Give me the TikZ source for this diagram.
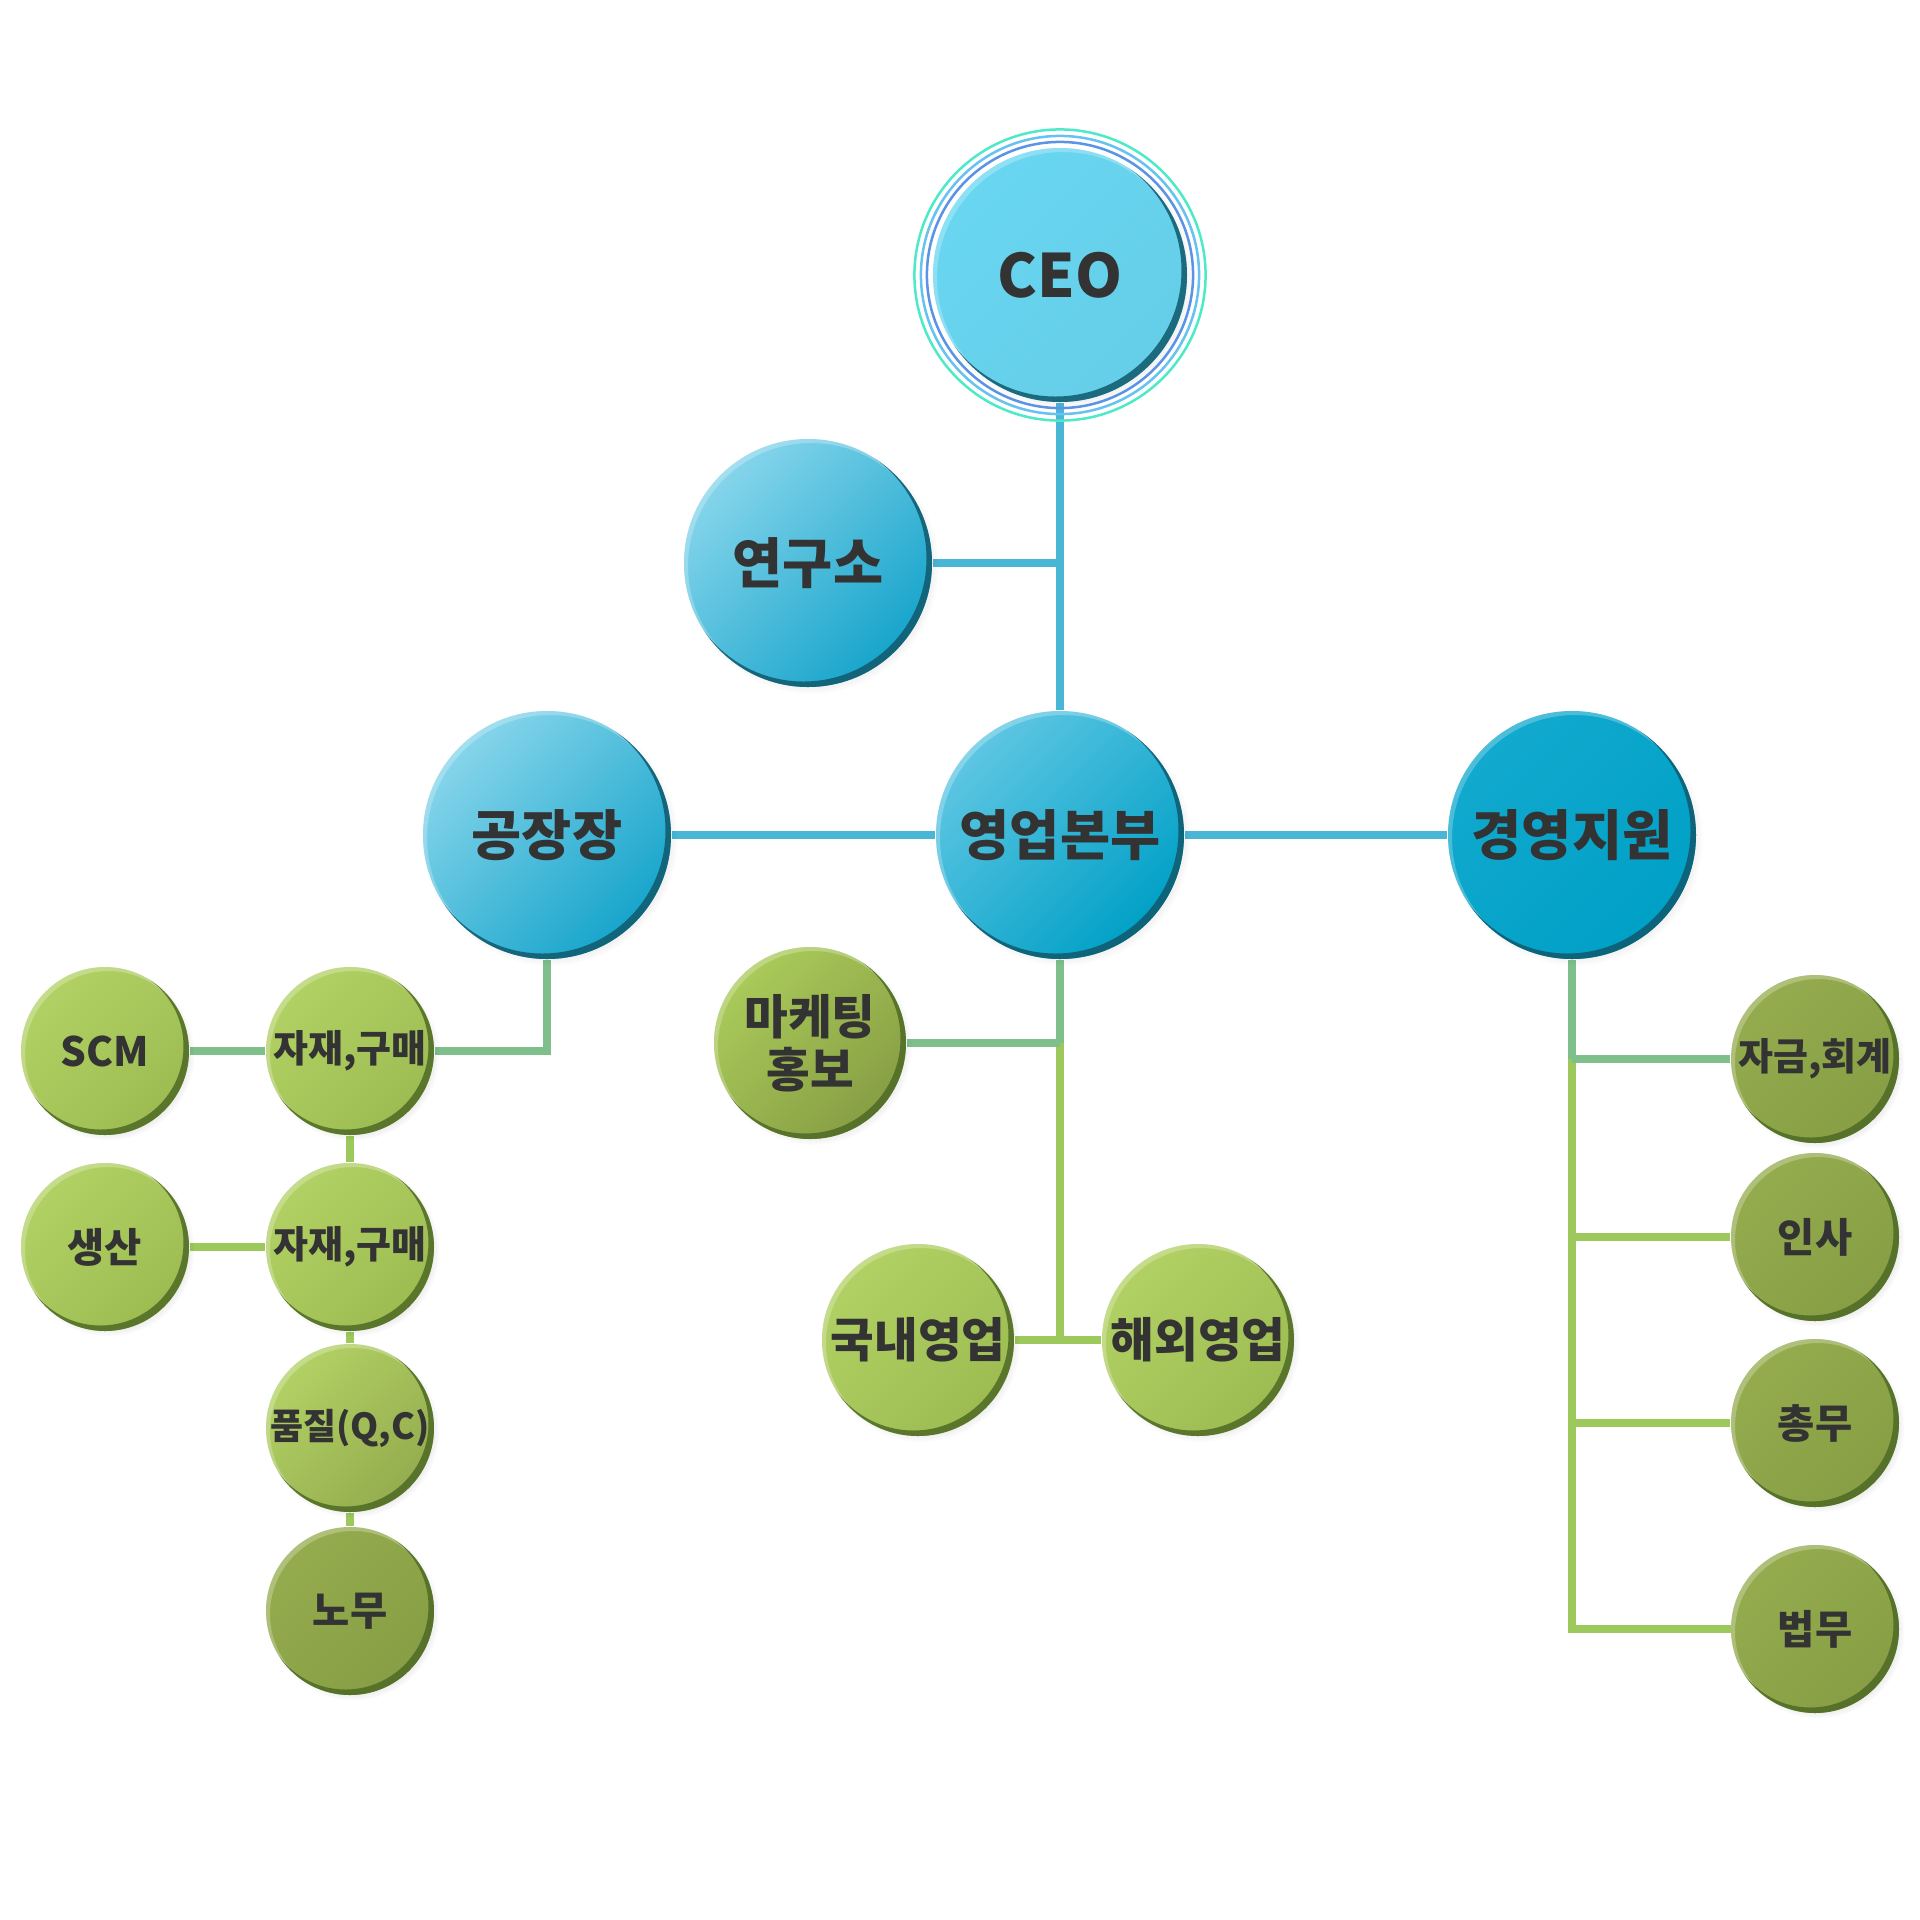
\documentclass[tikz,border=0pt]{standalone}
\usepackage{fontspec}
\setmainfont{Noto Sans CJK KR}
\usetikzlibrary{shadows}
\pgfdeclarelayer{bg}
\pgfdeclarelayer{lines}
\pgfsetlayers{bg,lines,main}
\definecolor{txt}{HTML}{333333}
\definecolor{ceofill}{HTML}{69D6F1}
\definecolor{ringA}{HTML}{5B93E6}
\definecolor{ringB}{HTML}{66C2F0}
\definecolor{ringC}{HTML}{4DEAC8}
\definecolor{bluerim}{HTML}{10596C}
\definecolor{greenrim}{HTML}{4E6A25}
\definecolor{blueline}{HTML}{4AB6D6}
\definecolor{tealline}{HTML}{7EBF8C}
\definecolor{greenline}{HTML}{9CC85C}
\definecolor{bA}{HTML}{86D5EB}
\definecolor{bB}{HTML}{16A4CB}
\definecolor{bC}{HTML}{5EC6E3}
\definecolor{bD}{HTML}{00A0C6}
\definecolor{bE}{HTML}{12A9CE}
\definecolor{gA}{HTML}{B2D164}
\definecolor{gB}{HTML}{9CBC52}
\definecolor{gC}{HTML}{94AC4E}
\definecolor{gD}{HTML}{879E44}
\definecolor{gE}{HTML}{AACA5A}
\tikzset{
  orb/.style n args={4}{circle, inner sep=0pt, minimum size={2*#1*0.01cm},
    top color=#2, bottom color=#3, shading angle=45, text=txt, align=center,
    circular drop shadow={shadow xshift=0.03cm, shadow yshift=-0.03cm, shadow scale=1.03, opacity=0.12, fill=black},
    path picture={
      \fill[white, opacity=0.25, even odd rule] (path picture bounding box.center) circle[radius={(#1+20)*0.01cm}]
        ([shift={(0.03cm,-0.03cm)}]path picture bounding box.center) circle[radius={(#1-1)*0.01cm}];
      \fill[#4, opacity=0.85, even odd rule] (path picture bounding box.center) circle[radius={(#1+20)*0.01cm}]
        ([shift={(-0.045cm,0.045cm)}]path picture bounding box.center) circle[radius={(#1-1)*0.01cm}];
    }},
  bigtxt/.style={font=\bfseries\fontsize{15.5}{18}\selectfont},
  midtxt/.style={font=\bfseries\fontsize{13.5}{15}\selectfont},
  smltxt/.style={font=\bfseries\fontsize{11.5}{13}\selectfont},
  tnytxt/.style={font=\bfseries\fontsize{10.8}{12}\selectfont},
  qctxt/.style={font=\bfseries\fontsize{10.2}{12}\selectfont},
  conn/.style={line width=0.075cm},
}
\begin{document}
\begin{tikzpicture}[x=0.01cm, y=-0.01cm]
\begin{pgfonlayer}{bg}
\fill[white] (0,0) rectangle (1920,1920);
\end{pgfonlayer}
\useasboundingbox (0,0) rectangle (1920,1920);

% blue level
\node[orb={127}{ceofill}{ceofill!96!black}{bluerim}, font=\bfseries\fontsize{17}{20}\selectfont] (ceo) at (1060,275) {CEO};
\draw[ringA, line width=0.025cm] (ceo.center) circle[radius=1.33cm];
\draw[ringB, line width=0.025cm] (ceo.center) circle[radius=1.39cm];
\draw[ringC, line width=0.025cm] (ceo.center) circle[radius=1.455cm];

\node[orb={124}{bA}{bB}{bluerim}, bigtxt] (yg) at (808,563) {연구소};
\node[orb={124}{bA}{bB}{bluerim}, bigtxt] (gj) at (547,835) {공장장};
\node[orb={124}{bC}{bD}{bluerim}, bigtxt] (yb) at (1060,835) {영업본부};
\node[orb={124}{bE}{bD}{bluerim}, bigtxt] (gy) at (1572,835) {경영지원};

% left branch
\node[orb={84}{gA}{gB}{greenrim}, smltxt] (scm) at (105,1051) {SCM};
\node[orb={84}{gA}{gB}{greenrim}, tnytxt] (jj1) at (350,1051) {자재,구매};
\node[orb={84}{gA}{gB}{greenrim}, smltxt] (ss) at (105,1247) {생산};
\node[orb={84}{gA}{gB}{greenrim}, tnytxt] (jj2) at (350,1247) {자재,구매};
\node[orb={84}{gA}{gC}{greenrim}, qctxt] (qc) at (350,1428) {품질(Q,C)};
\node[orb={84}{gC}{gD}{greenrim}, smltxt] (nm) at (350,1611) {노무};

% middle branch
\node[orb={96}{gE}{gD}{greenrim}, midtxt] (mk) at (810,1043) {마케팅\\홍보};
\node[orb={96}{gA}{gB}{greenrim}, midtxt] (gn) at (918,1340) {국내영업};
\node[orb={96}{gA}{gB}{greenrim}, midtxt] (hw) at (1198,1340) {해외영업};

% right branch
\node[orb={84}{gC}{gD}{greenrim}, tnytxt] (jh) at (1815,1059) {자금,회계};
\node[orb={84}{gC}{gD}{greenrim}, smltxt] (is) at (1815,1237) {인사};
\node[orb={84}{gC}{gD}{greenrim}, smltxt] (cm) at (1815,1423) {총무};
\node[orb={84}{gC}{gD}{greenrim}, smltxt] (bm) at (1815,1629) {법무};

\begin{pgfonlayer}{lines}
\draw[conn, blueline] (ceo.south) -- (yb.north);
\draw[conn, blueline] (yg.east) -- (yg.east -| ceo.south);
\draw[conn, blueline] (gj) -- (yb);
\draw[conn, blueline] (yb) -- (gy);
% left
\draw[conn, tealline] (gj.south) |- (jj1.east);
\draw[conn, tealline] (scm) -- (jj1);
\draw[conn, greenline] (jj1) -- (jj2);
\draw[conn, greenline] (ss) -- (jj2);
\draw[conn, greenline] (jj2) -- (qc);
\draw[conn, greenline] (qc) -- (nm);
% middle
\draw[conn, tealline] (yb.south) -- (yb.south |- mk.east);
\draw[conn, greenline] (yb.south |- mk.east) -- (yb.south |- gn.east);
\draw[conn, tealline] (mk.east) -- (mk.east -| yb.south);
\draw[conn, greenline] (gn.east) -- (hw.west);
% right
\draw[conn, tealline] (gy.south) -- (gy.south |- jh.west);
\draw[conn, greenline] (gy.south |- jh.west) -- (gy.south |- bm.west);
\draw[conn, tealline] (jh.west) -- (jh.west -| gy.south);
\draw[conn, greenline] (is.west) -- (is.west -| gy.south);
\draw[conn, greenline] (cm.west) -- (cm.west -| gy.south);
\draw[conn, greenline, line cap=rect] (bm.west) -- (bm.west -| gy.south);
\end{pgfonlayer}
\end{tikzpicture}
\end{document}
